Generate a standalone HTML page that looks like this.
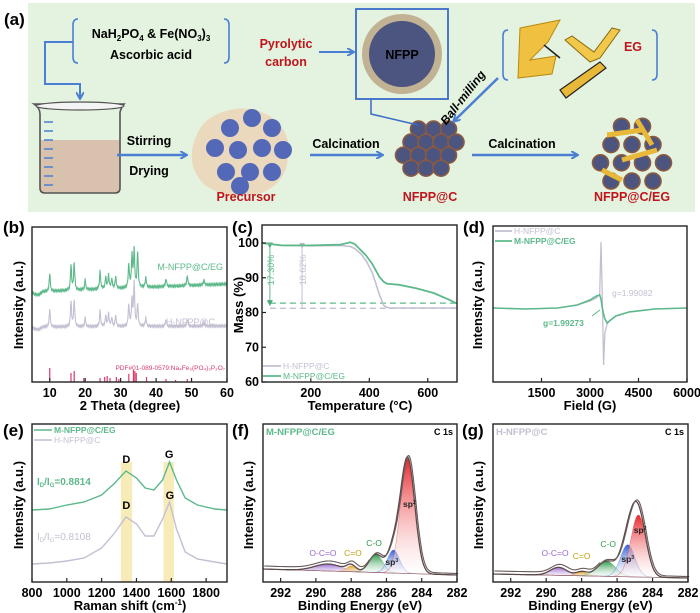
<!DOCTYPE html>
<html><head><meta charset="utf-8">
<style>
html,body{margin:0;padding:0;background:#fff;}
svg{display:block;font-family:"Liberation Sans",Arial,sans-serif;}
</style></head>
<body>
<svg id="fig" width="700" height="613" viewBox="0 0 700 613" xmlns="http://www.w3.org/2000/svg">
<defs>
 <linearGradient id="gRed" x1="0" y1="0" x2="0" y2="1"><stop offset="0" stop-color="#e8262b"/><stop offset="1" stop-color="#fff" stop-opacity="0.3"/></linearGradient>
 <linearGradient id="gBlue" x1="0" y1="0" x2="0" y2="1"><stop offset="0" stop-color="#2d5fd8"/><stop offset="1" stop-color="#fff" stop-opacity="0.3"/></linearGradient>
 <linearGradient id="gGreen" x1="0" y1="0" x2="0" y2="1"><stop offset="0" stop-color="#2e9a4a"/><stop offset="1" stop-color="#fff" stop-opacity="0.3"/></linearGradient>
 <linearGradient id="gOrange" x1="0" y1="0" x2="0" y2="1"><stop offset="0" stop-color="#e0a020"/><stop offset="1" stop-color="#fff" stop-opacity="0.3"/></linearGradient>
 <linearGradient id="gPurple" x1="0" y1="0" x2="0" y2="1"><stop offset="0" stop-color="#9a6ad0"/><stop offset="1" stop-color="#fff" stop-opacity="0.3"/></linearGradient>
 <marker id="arrB" markerWidth="8" markerHeight="8" refX="6" refY="4" orient="auto" markerUnits="userSpaceOnUse"><path d="M0,0 L7,4 L0,8" fill="none" stroke="#4a7fd4" stroke-width="2"/></marker>
 <marker id="arrG" markerWidth="6" markerHeight="6" refX="3" refY="3" orient="auto" markerUnits="userSpaceOnUse"><path d="M0,0 L6,3 L0,6 Z" fill="#4daa78"/></marker>
 <marker id="arrS" markerWidth="6" markerHeight="6" refX="3" refY="3" orient="auto" markerUnits="userSpaceOnUse"><path d="M0,0 L6,3 L0,6 Z" fill="#bbb5c8"/></marker>
</defs>

<!-- Panel (a) schematic -->
<g>
 <rect x="28" y="3" width="667" height="209" fill="#e3f3df"/>
 <text x="4" y="25" font-size="17" font-weight="bold">(a)</text>
 <path d="M78,19 q-5,0 -5,6 v32 q0,6 5,6 M224,19 q5,0 5,6 v32 q0,6 -5,6" fill="none" stroke="#4a7fd4" stroke-width="1.6"/>
 <text x="151" y="38" font-size="12.5" font-weight="bold" text-anchor="middle">NaH<tspan font-size="8" dy="3">2</tspan><tspan dy="-3">PO</tspan><tspan font-size="8" dy="3">4</tspan><tspan dy="-3"> &amp; Fe(NO</tspan><tspan font-size="8" dy="3">3</tspan><tspan dy="-3">)</tspan><tspan font-size="8" dy="3">3</tspan></text>
 <text x="151" y="59" font-size="12.5" font-weight="bold" text-anchor="middle">Ascorbic acid</text>
 <path d="M73,42 H45 V84 H80 V98" fill="none" stroke="#4a7fd4" stroke-width="2" marker-end="url(#arrB)"/>
 <g>
  <path d="M40,140 V188 q0,5 5,5 H115 q5,0 5,-5 V140 Z" fill="#d8c2ae"/>
  <path d="M34,104 q6,4 6,10 V188 q0,5 5,5 H115 q5,0 5,-5 V112 q2,-6 4,-8 Z" fill="none" stroke="#555" stroke-width="1.6"/>
  <ellipse cx="80" cy="106" rx="44" ry="4" fill="#f4f4f4" stroke="#555" stroke-width="1.2"/>
  <path d="M44,122h9M44,131h9M44,140h9M44,149h9M44,158h9M44,167h9M44,176h9M44,185h9" stroke="#4a7fd4" stroke-width="1.4"/>
 </g>
 <line x1="117" y1="155" x2="186" y2="155" stroke="#4a7fd4" stroke-width="2.5" marker-end="url(#arrB)"/>
 <text x="149" y="145" font-size="12.5" font-weight="bold" text-anchor="middle">Stirring</text>
 <text x="149" y="175" font-size="12.5" font-weight="bold" text-anchor="middle">Drying</text>
 <g id="precursor">
  <path d="M210,118 q30,-18 60,-2 q22,15 18,42 q-3,28 -30,36 q-30,6 -52,-8 q-20,-18 -12,-44 q5,-16 16,-24 Z" fill="#ead9bd"/>
 </g>
 <text x="246" y="201" font-size="12.5" font-weight="bold" fill="#c0151c" text-anchor="middle">Precursor</text>
 <line x1="310" y1="155" x2="382" y2="155" stroke="#4a7fd4" stroke-width="2.5" marker-end="url(#arrB)"/>
 <text x="346" y="148" font-size="12.5" font-weight="bold" text-anchor="middle">Calcination</text>
 <g id="nfppc"></g>
 <text x="430" y="201" font-size="12.5" font-weight="bold" fill="#c0151c" text-anchor="middle">NFPP@C</text>
 <line x1="472" y1="155" x2="577" y2="155" stroke="#4a7fd4" stroke-width="2.5" marker-end="url(#arrB)"/>
 <text x="522" y="148" font-size="12.5" font-weight="bold" text-anchor="middle">Calcination</text>
 <g id="nfppceg"></g>
 <text x="632" y="201" font-size="12.5" font-weight="bold" fill="#c0151c" text-anchor="middle">NFPP@C/EG</text>
 <text x="286" y="48" font-size="12.5" font-weight="bold" fill="#c0151c" text-anchor="middle">Pyrolytic</text>
 <text x="286" y="66" font-size="12.5" font-weight="bold" fill="#c0151c" text-anchor="middle">carbon</text>
 <line x1="319" y1="52" x2="353" y2="52" stroke="#4a7fd4" stroke-width="2" marker-end="url(#arrB)"/>
 <rect x="356" y="9" width="92" height="90" fill="none" stroke="#3a6ac8" stroke-width="1.8"/>
 <circle cx="402" cy="54" r="40" fill="#c2b294"/>
 <circle cx="402" cy="54" r="33" fill="#4c5480"/>
 <text x="402" y="59" font-size="12.5" font-weight="bold" text-anchor="middle">NFPP</text>
 <path d="M371,99 V114 L418,125" fill="none" stroke="#3a6ac8" stroke-width="1.5"/>
 <path d="M508,30 q-5,0 -5,6 v38 q0,6 5,6 M652,30 q5,0 5,6 v38 q0,6 -5,6" fill="none" stroke="#4a7fd4" stroke-width="1.6"/>
 <g>
  <path d="M520,28 L560,20 L548,42 L530,60 L556,56 L552,74 L518,78 Z" fill="#f0c040" stroke="#b88a10" stroke-width="1"/>
  <path d="M565,40 L590,62 L600,58 L620,30 L612,28 L594,52 L572,36 Z" fill="#f2c84a" stroke="#8a6a10" stroke-width="1"/>
  <path d="M560,90 L600,62 L606,68 L566,98 Z" fill="#e8b838" stroke="#222" stroke-width="1.2"/>
  <line x1="544" y1="45" x2="560" y2="58" stroke="#222" stroke-width="1.5"/>
 </g>
 <text x="633" y="51" font-size="12.5" font-weight="bold" fill="#c0151c" text-anchor="middle">EG</text>
 <line x1="498" y1="78" x2="454" y2="121" stroke="#4a7fd4" stroke-width="2.5" marker-end="url(#arrB)"/>
 <text x="466" y="100" font-size="12" font-weight="bold" font-style="italic" text-anchor="middle" transform="rotate(-52 466 100)">Ball-milling</text>
</g>

<g id="charts"></g>
</svg>

<script>
// ---------------- data arrays ----------------
// (b) XRD
const xrdPeaks = [10, 16, 16.9, 20, 24.2, 25.8, 26.6, 27.5, 28.6, 32.3, 33.2, 33.8, 34.8, 37.1, 42.8, 48.8, 53.5];
const xrdM = [18, 25, 28, 10, 18, 12, 14, 10, 12, 24, 32, 38, 35, 10, 8, 10, 5];
const xrdH = [18, 25, 27, 9, 16, 11, 13, 9, 11, 22, 26, 44, 22, 9, 7, 7, 4];
const xrdRefPos = [10, 16, 16.9, 19.6, 24.2, 25.5, 26.2, 27, 28.8, 29.5, 32.3, 33.6, 34, 34.4, 37.3, 42.8, 45.5, 48.8];
const xrdRefH = [14, 9, 11, 4, 4, 5, 6, 4, 5, 3, 8, 12, 11, 9, 5, 3, 2, 3];
const xrdTicks = [10, 20, 30, 40, 50, 60];
// (c) TGA
const tgaT = [33, 100, 200, 300, 335, 350, 370, 390, 410, 420, 435, 450, 460, 470, 500, 560, 620, 670, 700];
const tgaH = [100, 99.3, 99.2, 99.3, 99.0, 98.4, 97.0, 94.8, 91.5, 89.0, 85.0, 82.0, 81.5, 81.3, 81.3, 81.3, 81.3, 81.3, 81.3];
const tgaM = [100, 99.3, 99.3, 99.5, 100.2, 99.7, 98.0, 96.3, 94.0, 92.5, 90.2, 88.8, 88.3, 88.2, 88.0, 87.0, 85.6, 83.8, 82.6];
const tgaLevels = [82.7, 81.2];
const tgaYTicks = [60, 70, 80, 90, 100];
const tgaXTicks = [200, 400, 600];
// (d) EPR
const eprB = [0, 1000, 2000, 2600, 3000, 3200, 3300, 3340, 3380, 3420, 3460, 3530, 3600, 3800, 4200, 5000, 6000];
const eprH = [0, -1, 0, 3, 7, 10, 14, 66, 10, -57, -25, -16, -13, -8, -4, -1, 0];
const eprM = [0, -1, 0, 3, 8, 12, 13, 9, 0, -6, -11, -15, -13, -8, -4, -1, 0];
const eprTicks = [1500, 3000, 4500, 6000];
// (e) Raman
const ramanX = [800, 900, 1000, 1100, 1200, 1270, 1340, 1400, 1450, 1500, 1550, 1590, 1630, 1680, 1750, 1850, 1920];
const ramanM = [0, 1, 5, 8, 15, 26, 39, 32, 22, 20, 30, 48, 30, 12, 5, 1, 0];
const ramanH = [0, 1, 3, 6, 16, 30, 47, 40, 28, 28, 45, 62, 35, 12, 5, 2, 0];
const ramanTicks = [800, 1000, 1200, 1400, 1600, 1800];
// (f)/(g) XPS components: centre (eV), height (px units), FWHM (eV)
const xpsNames = ["sp2", "sp3", "C-O", "C=O", "O-C=O"];
const xpsCentre = [284.8, 285.6, 286.6, 288.0, 289.3];
const xpsFHeight = [115, 23, 18, 6, 7];
const xpsFWidth = [0.95, 0.8, 0.9, 0.6, 1.8];
const xpsGCentre = [284.8, 285.4, 286.6, 288.0, 289.3];
const xpsGHeight = [62, 32, 15, 4, 8];
const xpsGWidth = [1.0, 0.95, 1.2, 0.7, 1.1];
const xpsTicks = [292, 290, 288, 286, 284, 282];

// ---------------- helpers ----------------
const NS = "http://www.w3.org/2000/svg";
const root = document.getElementById("charts");
function mk(tag, attrs, parent) {
  const e = document.createElementNS(NS, tag);
  for (const k in attrs) e.setAttribute(k, attrs[k]);
  (parent || root).appendChild(e);
  return e;
}
function scale(d0, d1, r0, r1) { return v => r0 + (v - d0) * (r1 - r0) / (d1 - d0); }
function txt(x, y, s, size, opts, parent) {
  const t = mk("text", Object.assign({x: x, y: y, "font-size": size, "font-weight": "bold"}, opts || {}), parent);
  t.textContent = s;
  return t;
}
function polyline(xs, ys, sx, sy, attrs, parent) {
  const pts = xs.map((v, i) => sx(v).toFixed(1) + "," + sy(ys[i]).toFixed(1)).join(" ");
  return mk("polyline", Object.assign({points: pts, fill: "none"}, attrs), parent);
}
function frame(x0, y0, x1, y1, name) {
  const r = mk("rect", {x: x0, y: y0, width: x1 - x0, height: y1 - y0, fill: "none", stroke: "#222", "stroke-width": 1.4});
  
  
}
function xTicks(ticks, sx, yb, name, labels) {
  ticks.forEach((t, i) => {
    const l = mk("line", {x1: sx(t), x2: sx(t), y1: yb, y2: yb - 4, stroke: "#222", "stroke-width": 1.2});
    
    
    const tx = txt(sx(t), yb + 15, String(t), 12.5, {"text-anchor": "middle"});
    
    
  });
}
function yTitle(x, y, s, name) {
  const t = txt(x, y, s, 13, {"text-anchor": "middle", transform: "rotate(-90 " + x + " " + y + ")"});
  
  
}
function xTitle(x, y, s, name) {
  const t = txt(x, y, s, 13, {"text-anchor": "middle"});
  
  
  return t;
}
function panelLabel(x, y, s) {
  const t = txt(x, y, s, 17, {});
  
  
}
const GREEN = "#5cb98a", GRAY = "#c4bfd2";

// ---------------- (b) XRD ----------------
(function () {
  const X0 = 32, X1 = 227, Y0 = 227, Y1 = 382;
  const sx = scale(5, 60, X0, X1), sy = scale(0, 155, Y1, Y0);
  panelLabel(3, 233, "(b)");
  function pattern(peaks, base0, base1, dip) {
    const xs = [], ys = [];
    for (let k = 0; k <= 550; k++) {
      const x = 5 + k * 0.1;
      let y = base0 + (base1 - base0) * (x - 5) / 55;
      if (x < 8) y -= dip * (x - 5) / 3 * (8 - x) / 3 * 2;
      peaks.forEach((h, i) => { const d = (x - xrdPeaks[i]) / 0.18; y += h / (1 + d * d); });
      y += ((k * 37) % 7 - 3) * 0.35;
      xs.push(x); ys.push(y);
    }
    return [xs, ys];
  }
  const [mx, my] = pattern(xrdM, 90, 98, 6);
  const pm = polyline(mx, my, sx, sy, {stroke: GREEN, "stroke-width": 1.1});
  
  
  const [hx, hy] = pattern(xrdH, 55, 56, 5);
  const ph = polyline(hx, hy, sx, sy, {stroke: GRAY, "stroke-width": 1.1});
  
  
  xrdRefPos.forEach((p, i) => {
    const l = mk("line", {x1: sx(p), x2: sx(p), y1: Y1, y2: sy(xrdRefH[i]), stroke: "#d83a6a", "stroke-width": 1.2});
    
    
  });
  frame(X0, Y0, X1, Y1, 'xrd-plot-frame');
  xTicks(xrdTicks, sx, Y1, 'xrd-x');
  xTitle(130, 410, "2 Theta (degree)", 'xrd-x-title');
  yTitle(23, 305, "Intensity (a.u.)", 'xrd-y-title');
  let t = txt(223, 270, "M-NFPP@C/EG", 9, {fill: GREEN, "text-anchor": "end", "font-weight": "normal"});
   
  t = txt(215, 325, "H-NFPP@C", 9, {fill: GRAY, "text-anchor": "end", "font-weight": "normal"});
   
  t = txt(225, 370, "PDF#01-089-0579:Na\u2084Fe\u2083(PO\u2084)\u2082P\u2082O\u2087", 6.5, {fill: "#d83a6a", "text-anchor": "end", "font-weight": "normal"});
   
})();

// ---------------- (c) TGA ----------------
(function () {
  const X0 = 262, X1 = 457, Y0 = 225, Y1 = 382;
  const sx = scale(33, 700, X0, X1), sy = scale(60, 100, Y1, 243);
  panelLabel(232, 233, "(c)");
  const lv = [[tgaLevels[0], GREEN], [tgaLevels[1], GRAY]];
  lv.forEach(([v, c], i) => {
    const l = mk("line", {x1: sx(60), x2: X1, y1: sy(v), y2: sy(v), stroke: c, "stroke-width": 1.3, "stroke-dasharray": "6,4"});
    
    
  });
  let l = mk("line", {x1: sx(60), x2: sx(60), y1: sy(99.3), y2: sy(tgaLevels[0]), stroke: GREEN, "stroke-width": 1, "marker-end": "url(#arrG)", "marker-start": "url(#arrG)"});
   
  l = mk("line", {x1: sx(170), x2: sx(170), y1: sy(99.2), y2: sy(tgaLevels[1]), stroke: GRAY, "stroke-width": 1, "marker-start": "url(#arrS)"});
   
  let t = txt(sx(60) + 4, 270, "17.30%", 9, {fill: GREEN, "text-anchor": "middle", "font-weight": "normal", transform: "rotate(-90 " + (sx(60) + 4) + " 270)"});
   
  t = txt(sx(170) + 4, 270, "18.62%", 9, {fill: GRAY, "text-anchor": "middle", "font-weight": "normal", transform: "rotate(-90 " + (sx(170) + 4) + " 270)"});
   
  const ph = polyline(tgaT, tgaH, sx, sy, {stroke: GRAY, "stroke-width": 1.6});
   
  const pm = polyline(tgaT, tgaM, sx, sy, {stroke: GREEN, "stroke-width": 1.8});
   
  frame(X0, Y0, X1, Y1, 'tga-plot-frame');
  tgaYTicks.forEach(v => {
    const tk = mk("line", {x1: X0, x2: X0 + 4, y1: sy(v), y2: sy(v), stroke: "#222", "stroke-width": 1.2});
     
    const tl = txt(X0 - 3, sy(v) + 4, String(v), 12.5, {"text-anchor": "end"});
     
  });
  xTicks(tgaXTicks, sx, Y1, 'tga-x');
  xTitle(360, 410, "Temperature (\u00b0C)", 'tga-x-title');
  yTitle(243, 305, "Mass (%)", 'tga-y-title');
  [[366, GRAY, "H-NFPP@C"], [376, GREEN, "M-NFPP@C/EG"]].forEach(([y, c, s], i) => {
    const ll = mk("line", {x1: 263, x2: 281, y1: y, y2: y, stroke: c, "stroke-width": 1.8});
     
    const lt = txt(283, y + 3, s, 8.5, {fill: c, "font-weight": "normal"});
     
  });
})();

// ---------------- (d) EPR ----------------
(function () {
  const X0 = 493, X1 = 687, Y0 = 226, Y1 = 382;
  const sx = scale(0, 6000, X0, X1), sy = scale(0, 100, 308, 208);
  panelLabel(463, 233, "(d)");
  const ph = polyline(eprB, eprH, sx, sy, {stroke: GRAY, "stroke-width": 1.3});
   
  const pm = polyline(eprB, eprM, sx, sy, {stroke: GREEN, "stroke-width": 1.6});
   
  frame(X0, Y0, X1, Y1, 'epr-plot-frame');
  xTicks(eprTicks, sx, Y1, 'epr-x');
  xTitle(590, 410, "Field (G)", 'epr-x-title');
  yTitle(482, 305, "Intensity (a.u.)", 'epr-y-title');
  let t = txt(612, 296, "g=1.99082", 8.5, {fill: GRAY, "font-weight": "normal"});
   
  t = txt(543, 326, "g=1.99273", 8.5, {fill: GREEN});
   
  let a = mk("line", {x1: 592, y1: 316, x2: 600, y2: 310, stroke: GREEN, "stroke-width": 1});
   
  [[231, GRAY, "H-NFPP@C"], [241, GREEN, "M-NFPP@C/EG"]].forEach(([y, c, s]) => {
    const ll = mk("line", {x1: 495, x2: 512, y1: y, y2: y, stroke: c, "stroke-width": 1.8});
     
    const lt = txt(514, y + 3, s, 8.5, {fill: c, "font-weight": c === GREEN ? "bold" : "normal"});
     
  });
})();

// ---------------- (e) Raman ----------------
(function () {
  const X0 = 32, X1 = 227, Y0 = 424, Y1 = 582;
  const sx = scale(800, 1920, X0, X1), sy = scale(0, 100, 582, 482);
  panelLabel(3, 436, "(e)");
  [[1310, 1375], [1555, 1615]].forEach(([a, b], i) => {
    const r = mk("rect", {x: sx(a), y: 462, width: sx(b) - sx(a), height: Y1 - 462, fill: "#f7ecb8"});
     
  });
  const off = (arr, o) => arr.map(v => v + o);
  const pm = polyline(ramanX, off(ramanM, 72), sx, sy, {stroke: GREEN, "stroke-width": 1.4});
   
  const ph = polyline(ramanX, off(ramanH, 18), sx, sy, {stroke: GRAY, "stroke-width": 1.4});
   
  frame(X0, Y0, X1, Y1, 'raman-plot-frame');
  xTicks(ramanTicks, sx, Y1, 'raman-x');
  const tt = xTitle(130, 610, "Raman shift (cm", 'raman-x-title');
  const sp = document.createElementNS(NS, "tspan"); sp.setAttribute("font-size", "8"); sp.setAttribute("dy", "-5"); sp.textContent = "-1"; tt.appendChild(sp);
  const sp2 = document.createElementNS(NS, "tspan"); sp2.setAttribute("dy", "5"); sp2.textContent = ")"; tt.appendChild(sp2);
  yTitle(23, 505, "Intensity (a.u.)", 'raman-y-title');
  [["D", 1342, 463], ["G", 1588, 458], ["D", 1342, 509], ["G", 1592, 499]].forEach(([s, x, y]) => {
    const t = txt(sx(x), y, s, 11, {"text-anchor": "middle"});
     
  });
  [[485, GREEN, "0.8814"], [540, GRAY, "0.8108"]].forEach(([y, c, v]) => {
    const t = txt(37, y, "I", 10, {fill: c, "font-weight": c === GREEN ? "bold" : "normal"});
     
    t.innerHTML = 'I<tspan font-size="6" dy="2">D</tspan><tspan dy="-2">/I</tspan><tspan font-size="6" dy="2">G</tspan><tspan dy="-2">=' + v + '</tspan>';
  });
  [[430, GREEN, "M-NFPP@C/EG"], [440, GRAY, "H-NFPP@C"]].forEach(([y, c, s]) => {
    const ll = mk("line", {x1: 34, x2: 52, y1: y, y2: y, stroke: c, "stroke-width": 1.5});
     
    const lt = txt(54, y + 3, s, 8.5, {fill: c, "font-weight": c === GREEN ? "bold" : "normal"});
     
  });
})();

// ---------------- (f)/(g) XPS ----------------
function xpsPanel(X0, X1, lab, title, tcol, cen, hts, wid, base0, base1, labels, key) {
  const Y0 = 424, Y1 = 582;
  const sx = scale(293, 282, X0, X1), sy = scale(0, 100, 582, 482);
  panelLabel(X0 - 31, 436, lab);
  const fills = ["url(#gRed)", "url(#gBlue)", "url(#gGreen)", "url(#gOrange)", "url(#gPurple)"];
  const strokes = ["#e03030", "#2d5fd8", "#2e9a4a", "#e0a020", "#9a6ad0"];
  const bl = e => base0 + (base1 - base0) * (293 - e) / 11;
  const xs = []; for (let k = 0; k <= 220; k++) xs.push(293 - k * 0.05);
  const comp = (i, e) => { const s = wid[i] / 2.355; return hts[i] * Math.exp(-((e - cen[i]) ** 2) / (2 * s * s)); };
  for (let i = cen.length - 1; i >= 0; i--) {
    let d = "M" + sx(xs[0]) + "," + sy(bl(xs[0]));
    xs.forEach(e => { d += " L" + sx(e).toFixed(1) + "," + sy(bl(e) + comp(i, e)).toFixed(1); });
    d += " L" + sx(xs[xs.length - 1]) + "," + sy(bl(xs[xs.length - 1])) + " Z";
    const p = mk("path", {d: d, fill: fills[i], stroke: strokes[i], "stroke-width": 0.6, "stroke-opacity": 0.5});
    
    
  }
  const env = xs.map(e => bl(e) + cen.reduce((s, c, i) => s + comp(i, e), 0));
  const pe = polyline(xs, env, sx, sy, {stroke: "#5a4a4a", "stroke-width": 1.3});
   
  const pr = polyline(xs, env.map((v, i) => v + 1.5 + (xs[i] > 287 ? 1.5 : 0)), e => sx(e) + 1.2, sy, {stroke: "#6a5a5a", "stroke-width": 1.1});
   
  frame(X0, Y0, X1, Y1, key + '-plot-frame');
  xTicks(xpsTicks, sx, Y1, key + '-x');
  xTitle((X0 + X1) / 2, 610, "Binding Energy (eV)", key + '-x-title');
  yTitle(X0 - 10, 505, "Intensity (a.u.)", key + '-y-title');
  let t = txt(X0 + 3, 435, title, 9.5, {fill: tcol});
   
  t = txt(X1 - 4, 435, "C 1s", 9, {"text-anchor": "end"});
   
  labels.forEach(([s, e, y, c]) => {
    const tl = txt(sx(e), y, "", 8.5, {fill: c, "text-anchor": "middle", "font-weight": c === "#222" ? "bold" : "normal"});
    tl.innerHTML = s;
     
  });
}
xpsPanel(263, 457, "(f)", "M-NFPP@C/EG", GREEN, xpsCentre, xpsFHeight, xpsFWidth, 13, 7,
  [['sp<tspan font-size="5" dy="-3">2</tspan>', 284.7, 507, "#222"], ['sp<tspan font-size="5" dy="-3">3</tspan>', 285.7, 565, "#222"],
   ["C-O", 286.7, 546, "#2e9a4a"], ["C=O", 287.9, 556, "#c8a010"], ["O-C=O", 289.6, 556, "#9a6ad0"]], "xps-f");
xpsPanel(493, 688, "(g)", "H-NFPP@C", GRAY, xpsGCentre, xpsGHeight, xpsGWidth, 8, 4,
  [['sp<tspan font-size="5" dy="-3">2</tspan>', 284.7, 533, "#222"], ['sp<tspan font-size="5" dy="-3">3</tspan>', 285.4, 562, "#222"],
   ["C-O", 286.5, 547, "#2e9a4a"], ["C=O", 288.0, 559, "#c8a010"], ["O-C=O", 289.5, 556, "#9a6ad0"]], "xps-g");

// ---------------- schematic particles (decorative) ----------------
(function () {
  const pre = document.getElementById("precursor");
  const pc = [[230, 128], [252, 118], [272, 128], [215, 148], [238, 150], [262, 148], [283, 150], [226, 172], [250, 172], [272, 172], [240, 190]];
  pc.forEach(([x, y]) => {
    const c = mk("circle", {cx: x, cy: y > 185 ? 186 : y, r: 9, fill: "#5468b8"}, pre);
     
  });
  function cluster(g, cx, cy, R, r, step, eg) {
    for (let yy = -R; yy <= R; yy += step * 0.87) {
      const row = Math.round((yy + R) / (step * 0.87));
      for (let xx = -R; xx <= R; xx += step) {
        const x = xx + (row % 2 ? step / 2 : 0);
        if (x * x + yy * yy > (R - r * 0.4) ** 2) continue;
        const c = mk("circle", {cx: cx + x, cy: cy + yy, r: r, fill: "#4c5480", stroke: "#8a5a40", "stroke-width": 1.6}, g);
         
      }
    }
    if (eg) {
      [[-25, -15, 10, -20], [-10, 10, 25, 0], [5, -30, 20, -5], [-30, 20, -10, 30]].forEach(([a, b, c2, d]) => {
        const l = mk("line", {x1: cx + a, y1: cy + b, x2: cx + c2, y2: cy + d, stroke: "#e8b838", "stroke-width": 5}, g);
         
      });
    }
  }
  cluster(document.getElementById("nfppc"), 430, 150, 34, 8, 15, false);
  cluster(document.getElementById("nfppceg"), 632, 150, 42, 8, 21, true);
})();
</script>
</body></html>
